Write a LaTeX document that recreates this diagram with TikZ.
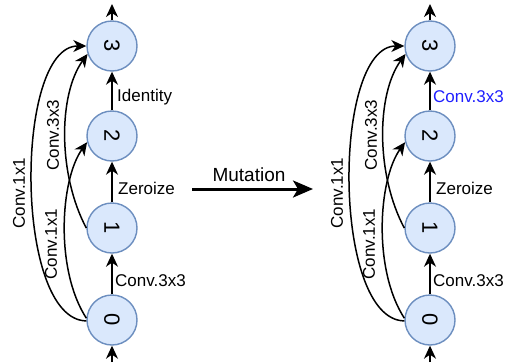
\documentclass[tikz,border=0pt]{standalone}
\usepackage{fontspec}
\setmainfont{Liberation Sans}
\usepackage{graphicx}
\usetikzlibrary{arrows.meta}
\definecolor{nodefill}{HTML}{DAE8FC}
\definecolor{nodedraw}{HTML}{6C8EBF}
\definecolor{mutblue}{HTML}{1F1FFF}
\tikzset{
  cell/.style={circle, draw=nodedraw, fill=nodefill, line width=1.4pt, minimum size=50pt, inner sep=0pt, font=\fontsize{22}{26}\selectfont},
  edge/.style={line width=1.5pt, -{Stealth[length=13pt,width=12pt,inset=4pt]}},
  lab/.style={font=\fontsize{17}{20}\selectfont, inner sep=0pt},
}
\newcommand{\cellgraph}[1]{%
  \node[cell] (n3) at (112,46) {\rotatebox{-90}{3}};
  \node[cell] (n2) at (112,136) {\rotatebox{-90}{2}};
  \node[cell] (n1) at (112,228) {\rotatebox{-90}{1}};
  \node[cell] (n0) at (112,320) {\rotatebox{-90}{0}};
  \coordinate (top) at (112,4);
  \coordinate (bot) at (112,362);
  \draw[edge] (n3) -- (top);
  \draw[edge] (bot) -- (n0);
  \draw[edge] (n0) -- (n1);
  \draw[edge] (n1) -- (n2);
  \draw[edge] (n2) -- (n3);
  \draw[edge] (n0.182) .. controls (14,320) and (14,46) .. (n3.west);
  \draw[edge] (n1.west) .. controls (58,175) and (58,95) .. (n3.198);
  \draw[edge] (n0.176) .. controls (55,270) and (60,180) .. (n2.194);
  \node[lab, anchor=west] (l01) at (115,281) {Conv.3x3};
  \node[lab, anchor=west] (l12) at (118,188) {Zeroize};
  #1
  \node[lab, rotate=90] (l03) at (19,193) {Conv.1x1};
  \node[lab, rotate=90] (l13) at (53,135) {Conv.3x3};
  \node[lab, rotate=90] (l02) at (51,244) {Conv.1x1};
}
\begin{document}
\begin{tikzpicture}[x=1pt,y=-1pt]
  \useasboundingbox (0,0) rectangle (509,362);
  \begin{scope}[name prefix=L-]
    \cellgraph{\node[lab, anchor=west] (l23) at (117,97) {Identity};}
  \end{scope}
  \begin{scope}[xshift=318pt, name prefix=R-]
    \cellgraph{\node[lab, anchor=west, text=mutblue] (l23) at (115,97) {Conv.3x3};}
  \end{scope}
  \node[lab, font=\fontsize{19}{22}\selectfont] (mut) at (249,175) {Mutation};
  \coordinate (ms) at (192,189);
  \coordinate (me) at (313,189);
  \draw[line width=3pt, -{Stealth[length=20pt,width=17pt,inset=5pt]}] (ms) -- (me);
\end{tikzpicture}
\end{document}
